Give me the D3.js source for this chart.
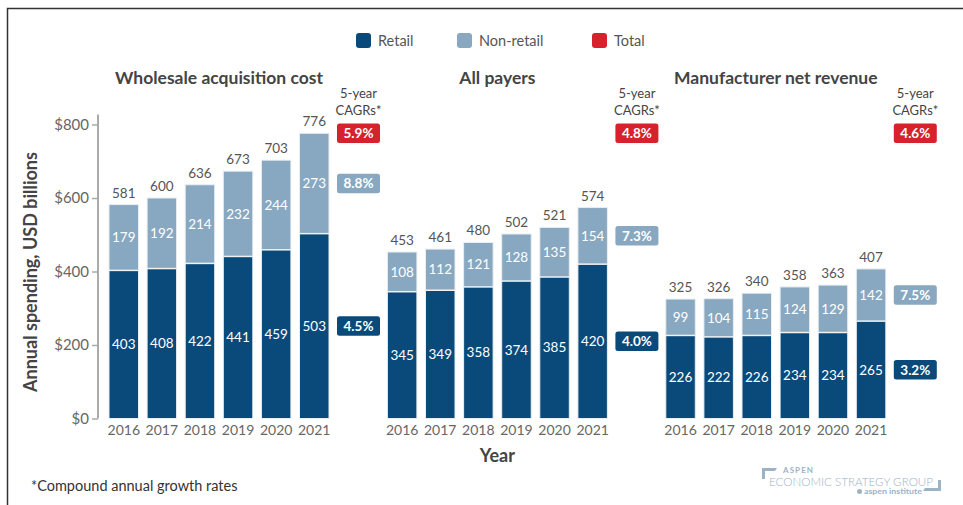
<!DOCTYPE html>
<html>
<head>
<meta charset="utf-8">
<script src="https://cdn.jsdelivr.net/npm/d3@7"></script>
<style>
    body { margin: 0; background: #fff; }
    svg { display: block; font-family: Lato, "Open Sans", sans-serif; }
</style>
</head>
<body>
<svg id="chart" width="963" height="505"></svg>
<script>
// chart data
var years = ["2016", "2017", "2018", "2019", "2020", "2021"];
var panelNames = ["Wholesale acquisition cost", "All payers", "Manufacturer net revenue"];

var retailWac = [403, 408, 422, 441, 459, 503];
var nonRetailWac = [179, 192, 214, 232, 244, 273];
var totalWac = [581, 600, 636, 673, 703, 776];

var retailAll = [345, 349, 358, 374, 385, 420];
var nonRetailAll = [108, 112, 121, 128, 135, 154];
var totalAll = [453, 461, 480, 502, 521, 574];

var retailMnr = [226, 222, 226, 234, 234, 265];
var nonRetailMnr = [99, 104, 115, 124, 129, 142];
var totalMnr = [325, 326, 340, 358, 363, 407];

var cagrTotal = ["5.9%", "4.8%", "4.6%"];
var cagrNonRetail = ["8.8%", "7.3%", "7.5%"];
var cagrRetail = ["4.5%", "4.0%", "3.2%"];

var yTicks = [0, 200, 400, 600, 800];
var legendItems = ["Retail", "Non-retail", "Total"];

var colors = {"Retail": "#0a4a7a", "Non-retail": "#87a8c0", "Total": "#d7222d"};

var panels = [
    {name: panelNames[0], retail: retailWac, nonRetail: nonRetailWac, total: totalWac},
    {name: panelNames[1], retail: retailAll, nonRetail: nonRetailAll, total: totalAll},
    {name: panelNames[2], retail: retailMnr, nonRetail: nonRetailMnr, total: totalMnr}
];

var svg = d3.select("#chart");

// frame lines (top + left)
svg.append("path")
    .attr("d", "M7.5,505 L7.5,8.5 L963,8.5")
    .attr("fill", "none")
    .attr("stroke", "#333")
    .attr("stroke-width", 1.5);

var y = d3.scaleLinear().domain([0, 800]).range([418.5, 124.5]);

var px = d3.scaleBand().domain(panelNames).range([109, 109 + 3 * 278.4]);
var x = d3.scaleBand().domain(years).range([0, 220]).paddingInner(0.226);

// y axis
var yAxis = svg.append("g")
    .attr("transform", "translate(98,0)")
    .call(d3.axisLeft(y).tickValues(yTicks).tickSize(6).tickPadding(3)
        .tickFormat(function (d) { return "$" + d; }));
yAxis.select(".domain").attr("stroke", "#aaa").attr("stroke-width", 2)
    .attr("d", "M0," + (y(800) - 10) + "V" + y(0));
yAxis.selectAll(".tick line").attr("stroke", "#aaa").attr("stroke-width", 1.5);
yAxis.selectAll(".tick text").attr("fill", "#666").style("font-size", "15px")
    .style("font-family", "Lato, sans-serif");

svg.append("text")
    .attr("transform", "translate(37," + 272 + ") rotate(-90)")
    .attr("text-anchor", "middle")
    .attr("fill", "#444")
    .style("font-size", "18px")
    .style("font-weight", "bold")
    .text("Annual spending, USD billions");

// legend
var legendX = [356, 457, 592];
var legend = svg.selectAll("g.legend")
    .data(legendItems)
    .enter().append("g")
    .attr("class", "legend")
    .attr("transform", function (d, i) { return "translate(" + legendX[i] + ",33)"; });
legend.append("rect")
    .attr("width", 15).attr("height", 15).attr("rx", 3)
    .attr("fill", function (d) { return colors[d]; });
legend.append("text")
    .attr("x", 22).attr("y", 12.5)
    .attr("fill", "#555")
    .style("font-size", "14.5px")
    .text(function (d) { return d; });

panels.forEach(function (p, pi) {
    var g = svg.append("g").attr("transform", "translate(" + px(p.name) + ",0)");
    var cx = x.range()[1] / 2;

    g.append("text")
        .attr("x", cx).attr("y", 84)
        .attr("text-anchor", "middle")
        .attr("fill", "#444")
        .style("font-size", "17.5px")
        .style("font-weight", "bold")
        .text(p.name);

    var rows = years.map(function (yr, i) {
        return {year: yr, retail: p.retail[i], nonRetail: p.nonRetail[i], total: p.total[i]};
    });

    var bars = g.selectAll("g.bar")
        .data(rows)
        .enter().append("g")
        .attr("class", "bar")
        .attr("transform", function (d) { return "translate(" + x(d.year) + ",0)"; });

    bars.append("rect")
        .attr("y", function (d) { return y(d.retail); })
        .attr("width", x.bandwidth())
        .attr("height", function (d) { return y(0) - y(d.retail); })
        .attr("fill", colors["Retail"]);

    bars.append("rect")
        .attr("y", function (d) { return y(d.retail + d.nonRetail); })
        .attr("width", x.bandwidth())
        .attr("height", function (d) { return y(d.retail) - y(d.retail + d.nonRetail); })
        .attr("fill", colors["Non-retail"]);

    // light separators/outlines
    bars.append("rect")
        .attr("y", function (d) { return y(d.retail + d.nonRetail); })
        .attr("width", x.bandwidth())
        .attr("height", function (d) { return y(0) - y(d.retail + d.nonRetail); })
        .attr("fill", "none")
        .attr("stroke", "#e9eef2")
        .attr("stroke-width", 1);
    bars.append("line")
        .attr("x1", 0).attr("x2", x.bandwidth())
        .attr("y1", function (d) { return y(d.retail); })
        .attr("y2", function (d) { return y(d.retail); })
        .attr("stroke", "#eef2f5")
        .attr("stroke-width", 1.5);

    bars.append("text")
        .attr("x", x.bandwidth() / 2)
        .attr("y", function (d) { return (y(0) + y(d.retail)) / 2; })
        .attr("dy", "0.35em")
        .attr("text-anchor", "middle")
        .attr("fill", "#fff")
        .style("font-size", "13.5px")
        .text(function (d) { return d.retail; });

    bars.append("text")
        .attr("x", x.bandwidth() / 2)
        .attr("y", function (d) { return (y(d.retail) + y(d.retail + d.nonRetail)) / 2; })
        .attr("dy", "0.35em")
        .attr("text-anchor", "middle")
        .attr("fill", "#fff")
        .style("font-size", "13.5px")
        .text(function (d) { return d.nonRetail; });

    bars.append("text")
        .attr("x", x.bandwidth() / 2)
        .attr("y", function (d) { return y(d.retail + d.nonRetail) - 7; })
        .attr("text-anchor", "middle")
        .attr("fill", "#555")
        .style("font-size", "13.5px")
        .text(function (d) { return d.total; });

    // x axis labels
    g.selectAll("text.year")
        .data(years)
        .enter().append("text")
        .attr("class", "year")
        .attr("x", function (d) { return x(d) + x.bandwidth() / 2; })
        .attr("y", 435)
        .attr("text-anchor", "middle")
        .attr("fill", "#666")
        .style("font-size", "14px")
        .text(function (d) { return d; });

    // CAGR badges
    var last = rows[rows.length - 1];
    var bx = x.range()[1] + 8;
    var bw = 43, bh = 19.5;
    var bcx = bx + bw / 2;

    g.append("text")
        .attr("x", bcx).attr("y", 98)
        .attr("text-anchor", "middle")
        .attr("fill", "#444")
        .style("font-size", "13px")
        .text("5-year");
    g.append("text")
        .attr("x", bcx).attr("y", 114.5)
        .attr("text-anchor", "middle")
        .attr("fill", "#444")
        .style("font-size", "13px")
        .text("CAGRs*");

    var maxTotal = d3.max(panels, function (q) { return d3.max(q.total); });
    var badges = [
        {label: cagrTotal[pi], color: colors["Total"], cy: y(maxTotal)},
        {label: cagrNonRetail[pi], color: colors["Non-retail"], cy: (y(last.retail) + y(last.retail + last.nonRetail)) / 2},
        {label: cagrRetail[pi], color: colors["Retail"], cy: (y(0) + y(last.retail)) / 2}
    ];
    var bg = g.selectAll("g.badge")
        .data(badges)
        .enter().append("g")
        .attr("class", "badge")
        .attr("transform", function (d) { return "translate(" + bx + "," + (d.cy - bh / 2) + ")"; });
    bg.append("rect")
        .attr("width", bw).attr("height", bh).attr("rx", 2.5)
        .attr("fill", function (d) { return d.color; });
    bg.append("text")
        .attr("x", bw / 2).attr("y", bh / 2)
        .attr("dy", "0.36em")
        .attr("text-anchor", "middle")
        .attr("fill", "#fff")
        .style("font-size", "13.5px")
        .style("font-weight", "bold")
        .text(function (d) { return d.label; });
});

// x axis title
svg.append("text")
    .attr("x", px(panelNames[1]) + x.range()[1] / 2)
    .attr("y", 462)
    .attr("text-anchor", "middle")
    .attr("fill", "#444")
    .style("font-size", "18px")
    .style("font-weight", "bold")
    .text("Year");

// footnote
svg.append("text")
    .attr("x", 31).attr("y", 491)
    .attr("fill", "#333")
    .style("font-size", "14.5px")
    .text("*Compound annual growth rates");

// logo
var logo = svg.append("g").attr("fill", "#9cb3c6");
logo.append("path").attr("d", "M762,468 L777,468 L775,471 L765,471 L765,479 L762,479 Z");
logo.append("path").attr("d", "M941,480 L941,491 L923,491 L925,488 L938,488 L938,480 Z");
logo.append("text").attr("x", 783).attr("y", 473)
    .style("font-size", "8px").style("font-weight", "bold")
    .attr("textLength", 30).attr("lengthAdjust", "spacing")
    .text("ASPEN");
logo.append("text").attr("x", 769).attr("y", 485.5)
    .style("font-size", "12px").style("font-weight", "300")
    .attr("textLength", 164).attr("lengthAdjust", "spacingAndGlyphs")
    .text("ECONOMIC STRATEGY GROUP");
logo.append("circle").attr("cx", 859.5).attr("cy", 491.5).attr("r", 2.5);
logo.append("text").attr("x", 864).attr("y", 494)
    .style("font-size", "7px").style("font-weight", "bold")
    .attr("textLength", 58).attr("lengthAdjust", "spacingAndGlyphs")
    .text("aspen institute");
</script>
</body>
</html>
